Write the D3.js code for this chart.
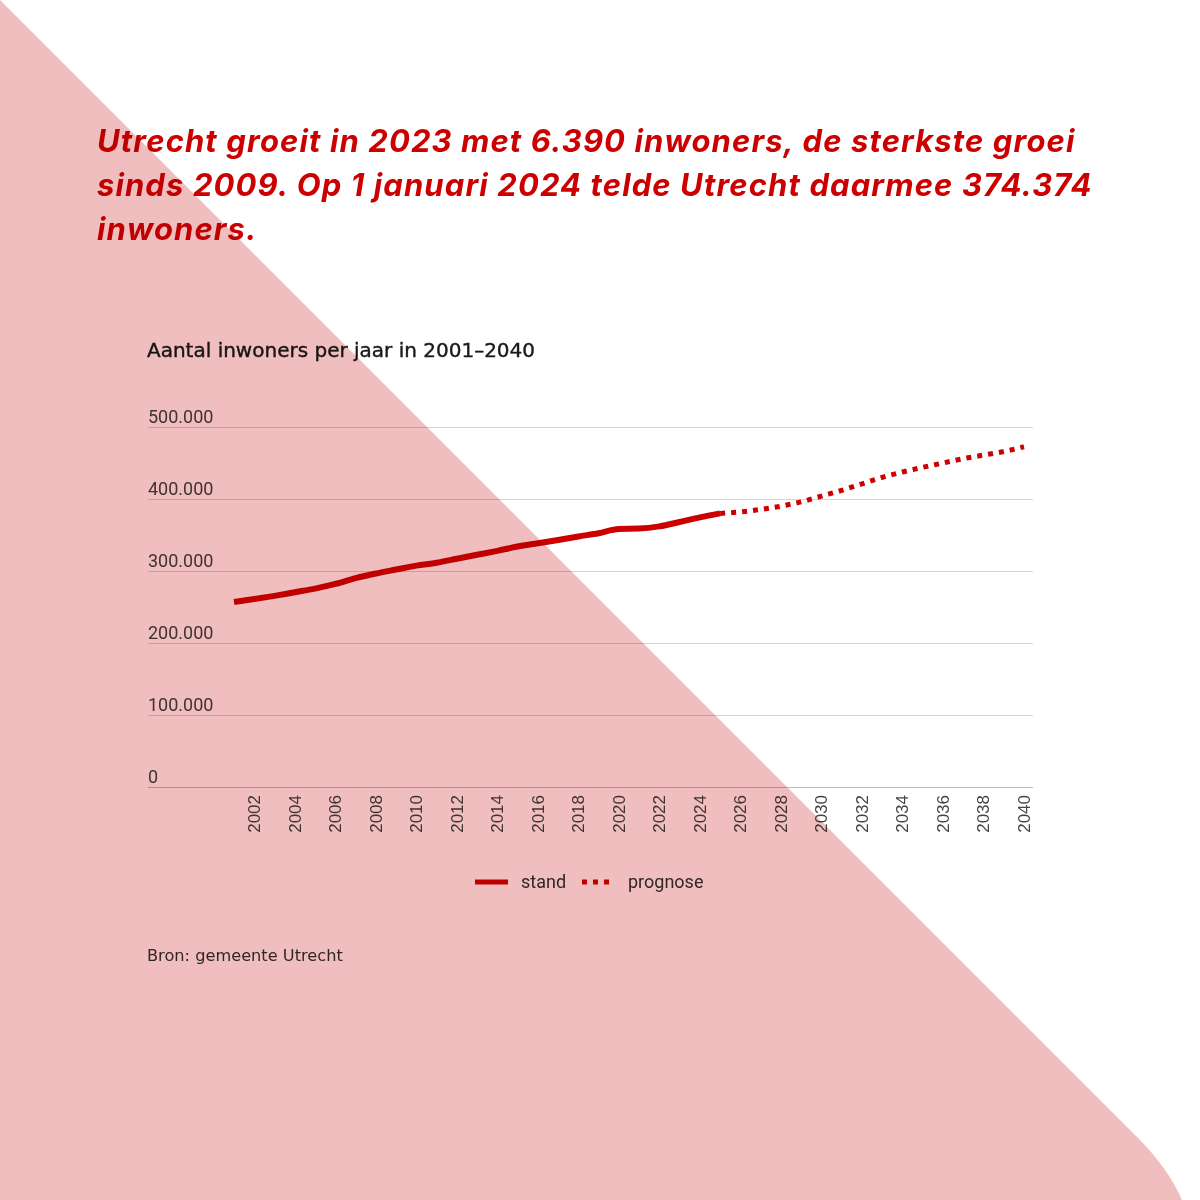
<!DOCTYPE html>
<html>
<head>
<meta charset="utf-8">
<script src="https://cdn.jsdelivr.net/npm/d3@7"></script>
<style>
  html, body { margin: 0; padding: 0; background: #ffffff; }
  svg { display: block; }
</style>
</head>
<body>
<svg id="chart" width="1200" height="1200"></svg>
<script>
// ---- data ----
const headlineLines = [
  "Utrecht groeit in 2023 met 6.390 inwoners, de sterkste groei",
  "sinds 2009. Op 1 januari 2024 telde Utrecht daarmee 374.374",
  "inwoners."
];
const chartTitle = "Aantal inwoners per jaar in 2001\u20132040";
const sourceText = "Bron: gemeente Utrecht";
const seriesNames = ["stand", "prognose"];

const standYears = [2001, 2002, 2003, 2004, 2005, 2006, 2007, 2008, 2009, 2010, 2011, 2012, 2013,
                    2014, 2015, 2016, 2017, 2018, 2019, 2020, 2021, 2022, 2023, 2024, 2025];
const standValues = [257000, 261000, 265500, 270500, 275500, 282000, 290000, 296500, 302000, 307500,
                     311500, 317000, 322500, 328000, 334000, 338500, 343000, 348000, 352500, 358500,
                     359000, 362000, 368000, 374500, 380000];

const prognoseYears = [2025, 2026, 2027, 2028, 2029, 2030, 2031, 2032, 2033, 2034, 2035, 2036,
                       2037, 2038, 2039, 2040];
const prognoseValues = [380000, 382000, 385500, 390000, 396000, 404000, 412000, 421000, 430000,
                        437500, 444000, 450000, 456000, 461000, 466000, 472500];

const yTickValues = [0, 100000, 200000, 300000, 400000, 500000];
const xTickYears = [2002, 2004, 2006, 2008, 2010, 2012, 2014, 2016, 2018, 2020,
                    2022, 2024, 2026, 2028, 2030, 2032, 2034, 2036, 2038, 2040];

// ---- setup ----
const RED = "#cc0000";
const svg = d3.select("#chart");
const nl = d3.formatLocale({ decimal: ",", thousands: ".", grouping: [3], currency: ["€", ""] });
const fmt = nl.format(",d");

const x = d3.scaleLinear().domain([2001, 2040]).range([234, 1024]);
const y = d3.scaleLinear().domain([0, 500000]).range([787, 427]);
const gridLeft = 148, gridRight = 1033;

// headline
const head = svg.append("g");
headlineLines.forEach((t, i) => {
  head.append("text")
    .attr("x", 97).attr("y", 152 + i * 44)
    .attr("font-family", "Inter")
    .attr("font-style", "italic")
    .attr("font-weight", 700)
    .attr("font-size", 31)
    .attr("letter-spacing", 1.1)
    .attr("fill", RED)
    .text(t);
});

// chart title
svg.append("text")
  .attr("x", 147).attr("y", 357)
  .attr("font-family", "DejaVu Sans")
  .attr("font-size", 20)
  .attr("fill", "#1a1a1a")
  .attr("stroke", "#1a1a1a")
  .attr("stroke-width", 0.4)
  .text(chartTitle);

// gridlines + y labels
const yAxis = svg.append("g");
yAxis.selectAll("line").data(yTickValues).join("line")
  .attr("x1", gridLeft).attr("x2", gridRight)
  .attr("y1", d => y(d) + 0.5).attr("y2", d => y(d) + 0.5)
  .attr("stroke", d => d === 0 ? "#bdbdbd" : "#d4d4d4")
  .attr("stroke-width", 1);
yAxis.selectAll("text").data(yTickValues).join("text")
  .attr("x", 148).attr("y", d => y(d) - 4)
  .attr("font-family", "Roboto")
  .attr("font-size", 18)
  .attr("fill", "#444")
  .text(d => fmt(d));

// x labels (rotated)
const xAxis = svg.append("g");
xAxis.selectAll("text").data(xTickYears).join("text")
  .attr("transform", d => `translate(${x(d) + 6},795) rotate(-90)`)
  .attr("text-anchor", "end")
  .attr("font-family", "Liberation Sans")
  .attr("font-size", 17)
  .attr("fill", "#444")
  .text(d => String(d));

// lines
const line = d3.line().x(d => x(d[0])).y(d => y(d[1])).curve(d3.curveMonotoneX);
svg.append("path")
  .datum(standYears.map((yr, i) => [yr, standValues[i]]))
  .attr("d", line)
  .attr("fill", "none")
  .attr("stroke", RED)
  .attr("stroke-width", 6);
svg.append("path")
  .datum(prognoseYears.map((yr, i) => [yr, prognoseValues[i]]))
  .attr("d", line)
  .attr("fill", "none")
  .attr("stroke", RED)
  .attr("stroke-width", 5)
  .attr("stroke-dasharray", "5,6");

// legend
const leg = svg.append("g").attr("font-family", "Roboto").attr("font-size", 18).attr("fill", "#333");
leg.append("line").attr("x1", 475).attr("x2", 508).attr("y1", 882).attr("y2", 882)
  .attr("stroke", RED).attr("stroke-width", 5);
leg.append("text").attr("x", 521).attr("y", 888).text(seriesNames[0]);
leg.append("line").attr("x1", 582).attr("x2", 609).attr("y1", 882).attr("y2", 882)
  .attr("stroke", RED).attr("stroke-width", 5).attr("stroke-dasharray", "5,6");
leg.append("text").attr("x", 628).attr("y", 888).text(seriesNames[1]);

// source
svg.append("text")
  .attr("x", 147).attr("y", 961)
  .attr("font-family", "DejaVu Sans")
  .attr("font-size", 16.2)
  .attr("fill", "#333")
  .text(sourceText);

// pink overlay triangle (multiply)
svg.append("path")
  .attr("d", "M0,0 L1138,1138 Q1168,1168 1182,1200 L0,1200 Z")
  .attr("fill", "#f0bebe")
  .style("mix-blend-mode", "multiply");
</script>
</body>
</html>
